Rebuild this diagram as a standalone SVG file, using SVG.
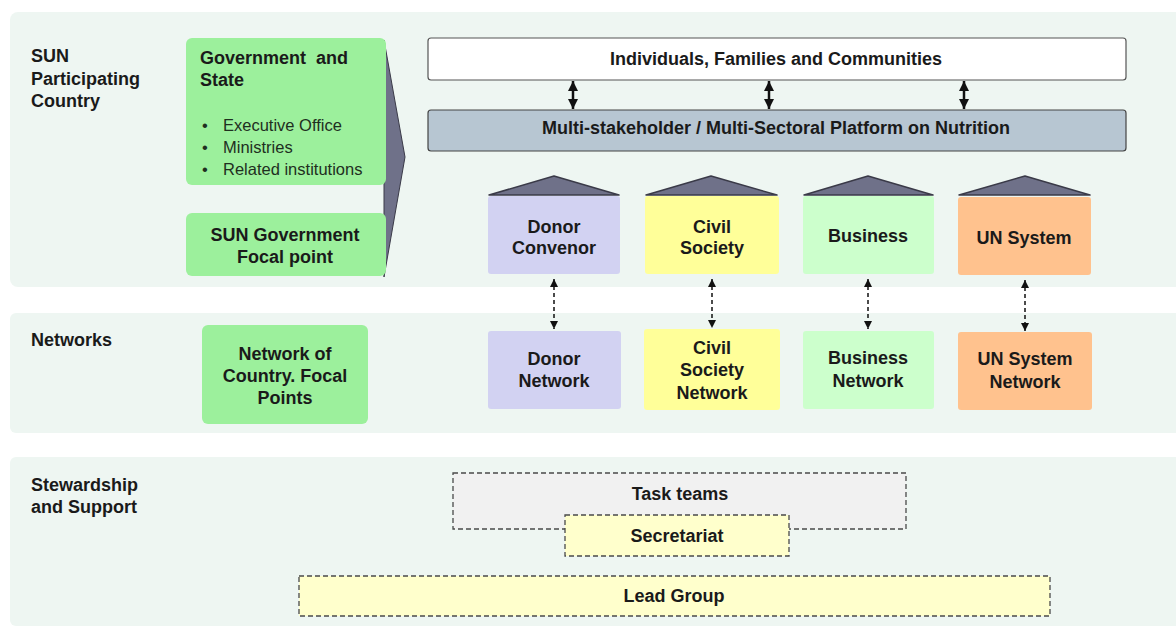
<svg xmlns="http://www.w3.org/2000/svg" width="1176" height="626" viewBox="0 0 1176 626">
  <style>
    .band { fill: #eef6f2; }
    .lbl { font-family: "Liberation Sans", Arial, sans-serif; font-weight: bold; font-size: 18px; fill: #1a1a1a; }
    .ctr { text-anchor: middle; }
    .reg { font-family: "Liberation Sans", Arial, sans-serif; font-size: 16.5px; fill: #1f2f1f; }
    .green { fill: #9cf09c; }
    .roof { fill: #6f7189; stroke: #3a3a48; stroke-width: 1.5; stroke-linejoin: round; }
    .dash { stroke: #4a4a4a; stroke-width: 1.3; stroke-dasharray: 5 3; }
    .solid { stroke: #111; stroke-width: 2.5; fill: none; }
    .dotted { stroke: #111; stroke-width: 1.5; stroke-dasharray: 4 3; fill: none; }
  </style>
  <defs>
    <marker id="head" viewBox="0 0 10 10" refX="10" refY="5" markerWidth="10" markerHeight="12" markerUnits="userSpaceOnUse" orient="auto-start-reverse">
      <path d="M0,0 L10,5 L0,10 z" fill="#111"/>
    </marker>
    <marker id="headSmall" viewBox="0 0 10 10" refX="10" refY="5" markerWidth="9" markerHeight="8" markerUnits="userSpaceOnUse" orient="auto-start-reverse">
      <path d="M0,0 L10,5 L0,10 z" fill="#111"/>
    </marker>
  </defs>

  <rect width="1176" height="626" fill="#ffffff"/>

  <!-- horizontal bands -->
  <g id="bands">
    <rect class="band" x="10" y="12" width="1176" height="275" rx="8"/>
    <rect class="band" x="10" y="313" width="1176" height="120" rx="6"/>
    <rect class="band" x="10" y="457" width="1176" height="169" rx="6"/>
  </g>

  <!-- band titles -->
  <g id="band-labels">
    <text class="lbl" x="31" y="62">SUN</text>
    <text class="lbl" x="31" y="85">Participating</text>
    <text class="lbl" x="31" y="107">Country</text>
    <text class="lbl" x="31" y="346">Networks</text>
    <text class="lbl" x="31" y="491">Stewardship</text>
    <text class="lbl" x="31" y="513">and Support</text>
  </g>

  <!-- chevron behind the government boxes -->
  <g id="chevron">
    <polygon points="384,40 405,157 384,277" fill="#6f7189" stroke="#3a3a48" stroke-width="1"/>
  </g>

  <g id="government">
    <rect class="green" x="186" y="38" width="200" height="147" rx="6"/>
    <text class="lbl" x="200" y="64" xml:space="preserve">Government  and</text>
    <text class="lbl" x="200" y="86">State</text>
    <text class="reg" x="202" y="131">•</text>
    <text class="reg" x="223" y="131">Executive Office</text>
    <text class="reg" x="202" y="153">•</text>
    <text class="reg" x="223" y="153">Ministries</text>
    <text class="reg" x="202" y="175">•</text>
    <text class="reg" x="223" y="175">Related institutions</text>
  </g>

  <g id="focal-point">
    <rect class="green" x="186" y="213" width="200" height="63" rx="6"/>
    <text class="lbl ctr" x="285" y="241">SUN Government</text>
    <text class="lbl ctr" x="285" y="263">Focal point</text>
  </g>

  <g id="individuals">
    <rect x="428" y="38" width="698" height="42" rx="3" fill="#ffffff" stroke="#555" stroke-width="1.2"/>
    <text class="lbl ctr" x="776" y="65">Individuals, Families and Communities</text>
  </g>

  <g id="platform">
    <rect x="428" y="110" width="698" height="41" rx="3" fill="#b7c6d2" stroke="#444" stroke-width="1.2"/>
    <text class="lbl ctr" x="776" y="134">Multi-stakeholder / Multi-Sectoral Platform on Nutrition</text>
  </g>

  <g id="donor-convenor">
    <polygon class="roof" points="489,195 554,176 619,195"/>
    <rect x="488" y="196" width="132" height="78" rx="3" fill="#d2d2f2"/>
    <text class="lbl ctr" x="554" y="233">Donor</text>
    <text class="lbl ctr" x="554" y="254">Convenor</text>
  </g>

  <g id="civil-society">
    <polygon class="roof" points="646,195 711,176 777,195"/>
    <rect x="645" y="196" width="134" height="78" rx="3" fill="#ffff99"/>
    <text class="lbl ctr" x="712" y="233">Civil</text>
    <text class="lbl ctr" x="712" y="254">Society</text>
  </g>

  <g id="business">
    <polygon class="roof" points="804,195 868,176 933,195"/>
    <rect x="803" y="196" width="131" height="78" rx="3" fill="#ccffcc"/>
    <text class="lbl ctr" x="868" y="242">Business</text>
  </g>

  <g id="un-system">
    <polygon class="roof" points="959,195 1025,176 1090,195"/>
    <rect x="958" y="197" width="133" height="78" rx="3" fill="#ffc28e"/>
    <text class="lbl ctr" x="1024" y="244">UN System</text>
  </g>

  <g id="country-focal-network">
    <rect class="green" x="202" y="325" width="166" height="99" rx="6"/>
    <text class="lbl ctr" x="285" y="360">Network of</text>
    <text class="lbl ctr" x="285" y="382">Country. Focal</text>
    <text class="lbl ctr" x="285" y="404">Points</text>
  </g>

  <g id="donor-network">
    <rect x="488" y="331" width="133" height="78" rx="3" fill="#d2d2f2"/>
    <text class="lbl ctr" x="554" y="365">Donor</text>
    <text class="lbl ctr" x="554" y="387">Network</text>
  </g>

  <g id="civil-society-network">
    <rect x="644" y="329" width="136" height="81" rx="3" fill="#ffff99"/>
    <text class="lbl ctr" x="712" y="354">Civil</text>
    <text class="lbl ctr" x="712" y="376">Society</text>
    <text class="lbl ctr" x="712" y="399">Network</text>
  </g>

  <g id="business-network">
    <rect x="803" y="331" width="131" height="78" rx="3" fill="#ccffcc"/>
    <text class="lbl ctr" x="868" y="364">Business</text>
    <text class="lbl ctr" x="868" y="387">Network</text>
  </g>

  <g id="un-system-network">
    <rect x="958" y="332" width="134" height="78" rx="3" fill="#ffc28e"/>
    <text class="lbl ctr" x="1025" y="365">UN System</text>
    <text class="lbl ctr" x="1025" y="388">Network</text>
  </g>

  <g id="task-teams">
    <rect class="dash" x="453" y="473" width="453" height="56" fill="#f1f1f1"/>
    <text class="lbl ctr" x="680" y="500">Task teams</text>
  </g>

  <g id="secretariat">
    <rect class="dash" x="565" y="515" width="224" height="41" fill="#ffffcc"/>
    <text class="lbl ctr" x="677" y="542">Secretariat</text>
  </g>

  <g id="lead-group">
    <rect class="dash" x="299" y="576" width="751" height="40" fill="#ffffcc"/>
    <text class="lbl ctr" x="674" y="602">Lead Group</text>
  </g>

  <!-- connectors -->
  <g id="connectors">
    <line class="solid" x1="573" y1="81" x2="573" y2="109" marker-start="url(#head)" marker-end="url(#head)"/>
    <line class="solid" x1="769" y1="81" x2="769" y2="109" marker-start="url(#head)" marker-end="url(#head)"/>
    <line class="solid" x1="964" y1="81" x2="964" y2="109" marker-start="url(#head)" marker-end="url(#head)"/>

    <line class="dotted" x1="554" y1="279" x2="554" y2="329" marker-start="url(#headSmall)" marker-end="url(#headSmall)"/>
    <line class="dotted" x1="712" y1="279" x2="712" y2="328" marker-start="url(#headSmall)" marker-end="url(#headSmall)"/>
    <line class="dotted" x1="868" y1="279" x2="868" y2="329" marker-start="url(#headSmall)" marker-end="url(#headSmall)"/>
    <line class="dotted" x1="1025" y1="280" x2="1025" y2="331" marker-start="url(#headSmall)" marker-end="url(#headSmall)"/>
  </g>
</svg>
